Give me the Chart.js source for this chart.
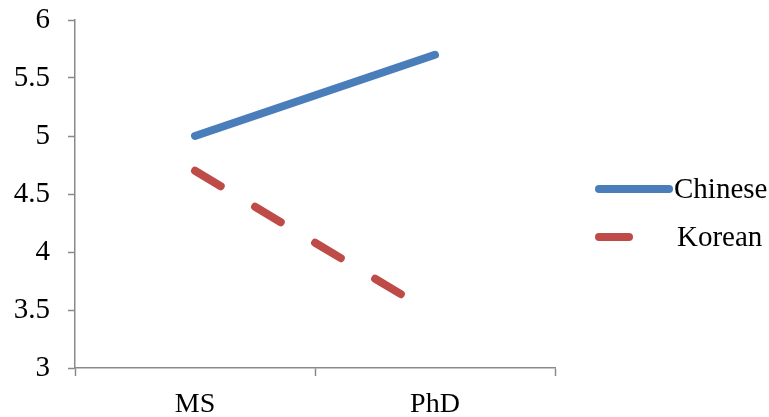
<!DOCTYPE html>
<html lang="en">
<head>
    <meta charset="UTF-8">
    <title>Chinese vs Korean</title>
    <script src="https://cdn.jsdelivr.net/npm/chart.js"></script>
    <style>
        body {
            margin: 0;
            padding: 0;
            background-color: #ffffff;
        }
    </style>
</head>
<body>
    <canvas id="myChart" width="769" height="417"></canvas>

    <script>
        const categories = ['MS', 'PhD'];
        const chinese = [5.0, 5.7];
        const korean = [4.7, 3.46];
        const yMin = 3;
        const yMax = 6;
        const yStep = 0.5;

        const fontFamily = '"Liberation Serif", "Times New Roman", serif';
        const axisColor = '#898989';

        // legend drawn by hand so the dashed line looks like the original
        const sideLegend = {
            id: 'sideLegend',
            afterDraw(chart) {
                const ctx = chart.ctx;
                const rows = [189, 237];
                chart.data.datasets.forEach((ds, i) => {
                    const y = rows[i];
                    const len = ds.borderDash ? ds.borderDash[0] : 70;
                    ctx.save();
                    ctx.strokeStyle = ds.borderColor;
                    ctx.lineWidth = ds.borderWidth;
                    ctx.lineCap = 'round';
                    ctx.beginPath();
                    ctx.moveTo(599, y);
                    ctx.lineTo(599 + len, y);
                    ctx.stroke();
                    ctx.fillStyle = '#000';
                    ctx.font = '29px ' + fontFamily;
                    ctx.textBaseline = 'middle';
                    ctx.fillText(ds.label, i === 0 ? 674 : 677, y + 1);
                    ctx.restore();
                });
            }
        };

        // keep the plot box where the original has it
        const noPad = s => {
            s.paddingTop = 0;
            s.paddingBottom = 0;
            s.paddingLeft = 0;
            s.paddingRight = 0;
        };

        const ctx = document.getElementById('myChart');

        new Chart(ctx, {
            type: 'line',
            data: {
                labels: categories,
                datasets: [{
                    label: 'Chinese',
                    data: chinese,
                    borderColor: '#4A7EBB',
                    borderWidth: 8,
                    borderCapStyle: 'round',
                    pointRadius: 0,
                    fill: false
                },
                {
                    label: 'Korean',
                    data: korean,
                    borderColor: '#BE4B48',
                    borderWidth: 8,
                    borderCapStyle: 'round',
                    borderDash: [30, 40],
                    pointRadius: 0,
                    fill: false
                }]
            },
            options: {
                responsive: false,
                animation: false,
                layout: {
                    padding: { top: 20, right: 214, left: 0, bottom: 0 }
                },
                plugins: {
                    legend: { display: false },
                    tooltip: { enabled: false }
                },
                scales: {
                    x: {
                        offset: true,
                        afterFit: s => { s.height = 49; noPad(s); },
                        grid: {
                            offset: true,
                            drawOnChartArea: false,
                            drawTicks: true,
                            tickLength: 8,
                            tickColor: axisColor,
                            tickWidth: 1.5
                        },
                        border: { color: axisColor, width: 1.5 },
                        ticks: {
                            color: '#000',
                            padding: 12,
                            font: { family: fontFamily, size: 28 }
                        }
                    },
                    y: {
                        min: yMin,
                        max: yMax,
                        afterFit: s => { s.width = 75; noPad(s); },
                        grid: {
                            drawOnChartArea: false,
                            drawTicks: true,
                            tickLength: 7,
                            tickColor: axisColor,
                            tickWidth: 1.5
                        },
                        border: { color: axisColor, width: 1.5 },
                        ticks: {
                            stepSize: yStep,
                            color: '#000',
                            padding: 18,
                            font: { family: fontFamily, size: 29 },
                            callback: v => String(Number(v.toFixed(1)))
                        }
                    }
                }
            },
            plugins: [sideLegend]
        });
    </script>
</body>
</html>
